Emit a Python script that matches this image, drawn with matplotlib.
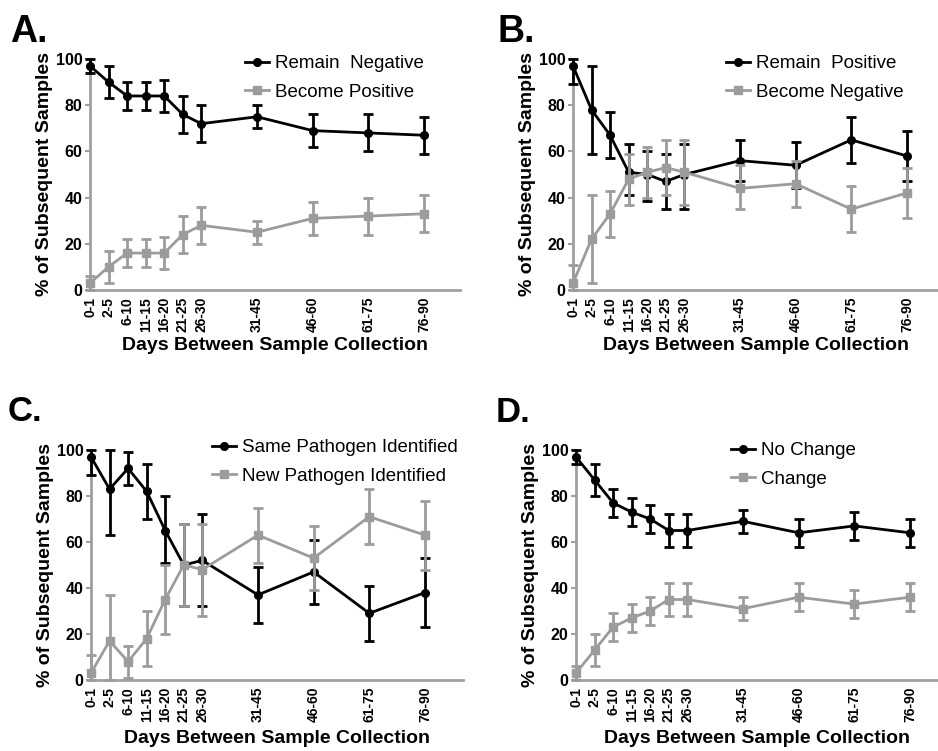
import matplotlib
matplotlib.use('Agg')
import matplotlib.pyplot as plt
from matplotlib.lines import Line2D
import numpy as np

plt.rcParams['font.family'] = ['Liberation Sans', 'DejaVu Sans']

# ---------------- data ----------------
categories = ['0-1', '2-5', '6-10', '11-15', '16-20', '21-25', '26-30',
              '31-45', '46-60', '61-75', '76-90']
x_days = [0, 5, 10, 15, 20, 25, 30, 45, 60, 75, 90]

# Panel A
a_black = [97, 90, 84, 84, 84, 76, 72, 75, 69, 68, 67]
a_black_lo = [94, 83, 78, 78, 77, 68, 64, 70, 62, 60, 59]
a_black_hi = [100, 97, 90, 90, 91, 84, 80, 80, 76, 76, 75]
a_gray = [3, 10, 16, 16, 16, 24, 28, 25, 31, 32, 33]
a_gray_lo = [0, 3, 10, 10, 9, 16, 20, 20, 24, 24, 25]
a_gray_hi = [6, 17, 22, 22, 23, 32, 36, 30, 38, 40, 41]

# Panel B
b_black = [97, 78, 67, 51, 50, 47, 50, 56, 54, 65, 58]
b_black_lo = [89, 59, 57, 41, 38.5, 35, 35, 47, 44, 55, 47]
b_black_hi = [100, 97, 77, 63, 60, 59, 63, 65, 64, 75, 69]
b_gray = [3, 22, 33, 48, 51, 53, 51, 44, 46, 35, 42]
b_gray_lo = [0, 3, 23, 37, 40, 41, 37, 35, 36, 25, 31]
b_gray_hi = [11, 41, 43, 59, 62, 65, 65, 54, 56, 45, 53]

# Panel C
c_black = [97, 83, 92, 82, 65, 50, 52, 37, 47, 29, 38]
c_black_lo = [89, 63, 85, 70, 51, 32, 32, 25, 33, 17, 23]
c_black_hi = [100, 100, 99, 94, 80, 68, 72, 49, 61, 41, 53]
c_gray = [3, 17, 8, 18, 35, 50, 48, 63, 53, 71, 63]
c_gray_lo = [0, 0, 1, 6, 20, 32, 28, 51, 39, 59, 48]
c_gray_hi = [11, 37, 15, 30, 50, 68, 68, 75, 67, 83, 78]

# Panel D
d_black = [97, 87, 77, 73, 70, 65, 65, 69, 64, 67, 64]
d_black_lo = [94, 80, 71, 67, 64, 58, 58, 64, 58, 61, 58]
d_black_hi = [100, 94, 83, 79, 76, 72, 72, 74, 70, 73, 70]
d_gray = [3, 13, 23, 27, 30, 35, 35, 31, 36, 33, 36]
d_gray_lo = [0, 6, 17, 21, 24, 28, 28, 26, 30, 27, 30]
d_gray_hi = [6, 20, 29, 33, 36, 42, 42, 36, 42, 39, 42]

panels = [
    dict(tag='A.', black=(a_black, a_black_lo, a_black_hi), gray=(a_gray, a_gray_lo, a_gray_hi),
         labels=('Remain  Negative', 'Become Positive')),
    dict(tag='B.', black=(b_black, b_black_lo, b_black_hi), gray=(b_gray, b_gray_lo, b_gray_hi),
         labels=('Remain  Positive', 'Become Negative')),
    dict(tag='C.', black=(c_black, c_black_lo, c_black_hi), gray=(c_gray, c_gray_lo, c_gray_hi),
         labels=('Same Pathogen Identified', 'New Pathogen Identified')),
    dict(tag='D.', black=(d_black, d_black_lo, d_black_hi), gray=(d_gray, d_gray_lo, d_gray_hi),
         labels=('No Change', 'Change')),
]

# ---------------- layout (pixels) ----------------
W, H = 938, 751
PX_PER_DAY = 3.71
# left, right, top(y=100), bottom(y=0)
boxes = [(90, 460, 59, 290), (573, 938, 59, 290), (91, 463, 450, 680), (576, 938, 450, 680)]
tags_pos = [(10, 42, 27), (497, 42, 27), (8, 421, 25), (496, 422, 25)]
xlabel_gap = [47, 47, 50, 50]
# legend: handle start x, row1 center y
legend_pos = [(245, 65), (726, 65), (212, 449), (731, 452)]

BLACK = '#000000'
GRAY = '#9c9c9c'
SPINE = '#a0a0a0'

fig = plt.figure(figsize=(W / 100, H / 100), dpi=100)
fig.patch.set_facecolor('white')


def draw(ax, series, color, marker, z):
    vals, lo, hi = (np.array(s, dtype=float) for s in series)
    yerr = [vals - lo, hi - vals]
    ax.errorbar(x_days, vals, yerr=yerr, color=color, ecolor=color, elinewidth=2.0,
                capsize=3.8, capthick=2.0, lw=2.0, marker=marker, ms=5.5,
                mfc=color, mec=color, zorder=z, clip_on=False)


for p, (l, r, t, b), (tx, ty, tfs), (lx, ly), gap in zip(panels, boxes, tags_pos,
                                                        legend_pos, xlabel_gap):
    ax = fig.add_axes([l / W, 1 - b / H, (r - l) / W, (b - t) / H])
    ax.set_xlim(0, (r - l) / PX_PER_DAY)
    ax.set_ylim(0, 100)
    draw(ax, p['black'], BLACK, 'o', 3)
    draw(ax, p['gray'], GRAY, 's', 4)

    for s in ['top', 'right']:
        ax.spines[s].set_visible(False)
    for s in ['left', 'bottom']:
        ax.spines[s].set_color(SPINE)
        ax.spines[s].set_linewidth(2)
    ax.set_yticks([0, 20, 40, 60, 80, 100])
    ax.set_xticks(x_days)
    ax.set_xticklabels(categories, rotation=90, fontweight='bold', fontsize=10)
    ax.tick_params(axis='y', colors=SPINE, length=3.8, width=1.5, labelsize=11.5,
                   labelcolor='black', pad=1.5)
    ax.tick_params(axis='x', length=0, pad=5, labelcolor='black')
    for lab in ax.get_yticklabels():
        lab.set_fontweight('bold')

    ax.set_xlabel('Days Between Sample Collection', fontsize=14, fontweight='bold')
    ax.xaxis.set_label_coords(0.5, -gap / (b - t))
    ax.set_ylabel('% of Subsequent Samples', fontsize=14, fontweight='bold')
    ax.yaxis.set_label_coords(-37 / (r - l), 0.5)

    handles = [Line2D([0], [0], color=BLACK, lw=2.0, marker='o', ms=5.5),
               Line2D([0], [0], color=GRAY, lw=2.0, marker='s', ms=5.5)]
    ax.legend(handles, p['labels'], loc='upper left',
              bbox_to_anchor=(lx / W, 1 - (ly - 10) / H),
              bbox_transform=fig.transFigure, frameon=False, fontsize=13.5,
              handlelength=1.3, handletextpad=0.3, labelspacing=0.62,
              borderpad=0, borderaxespad=0, numpoints=1)

    fig.text(tx / W, 1 - ty / H, p['tag'], fontsize=tfs, fontweight='bold',
             ha='left', va='baseline')

fig.savefig('out.png', dpi=100, facecolor='white')
